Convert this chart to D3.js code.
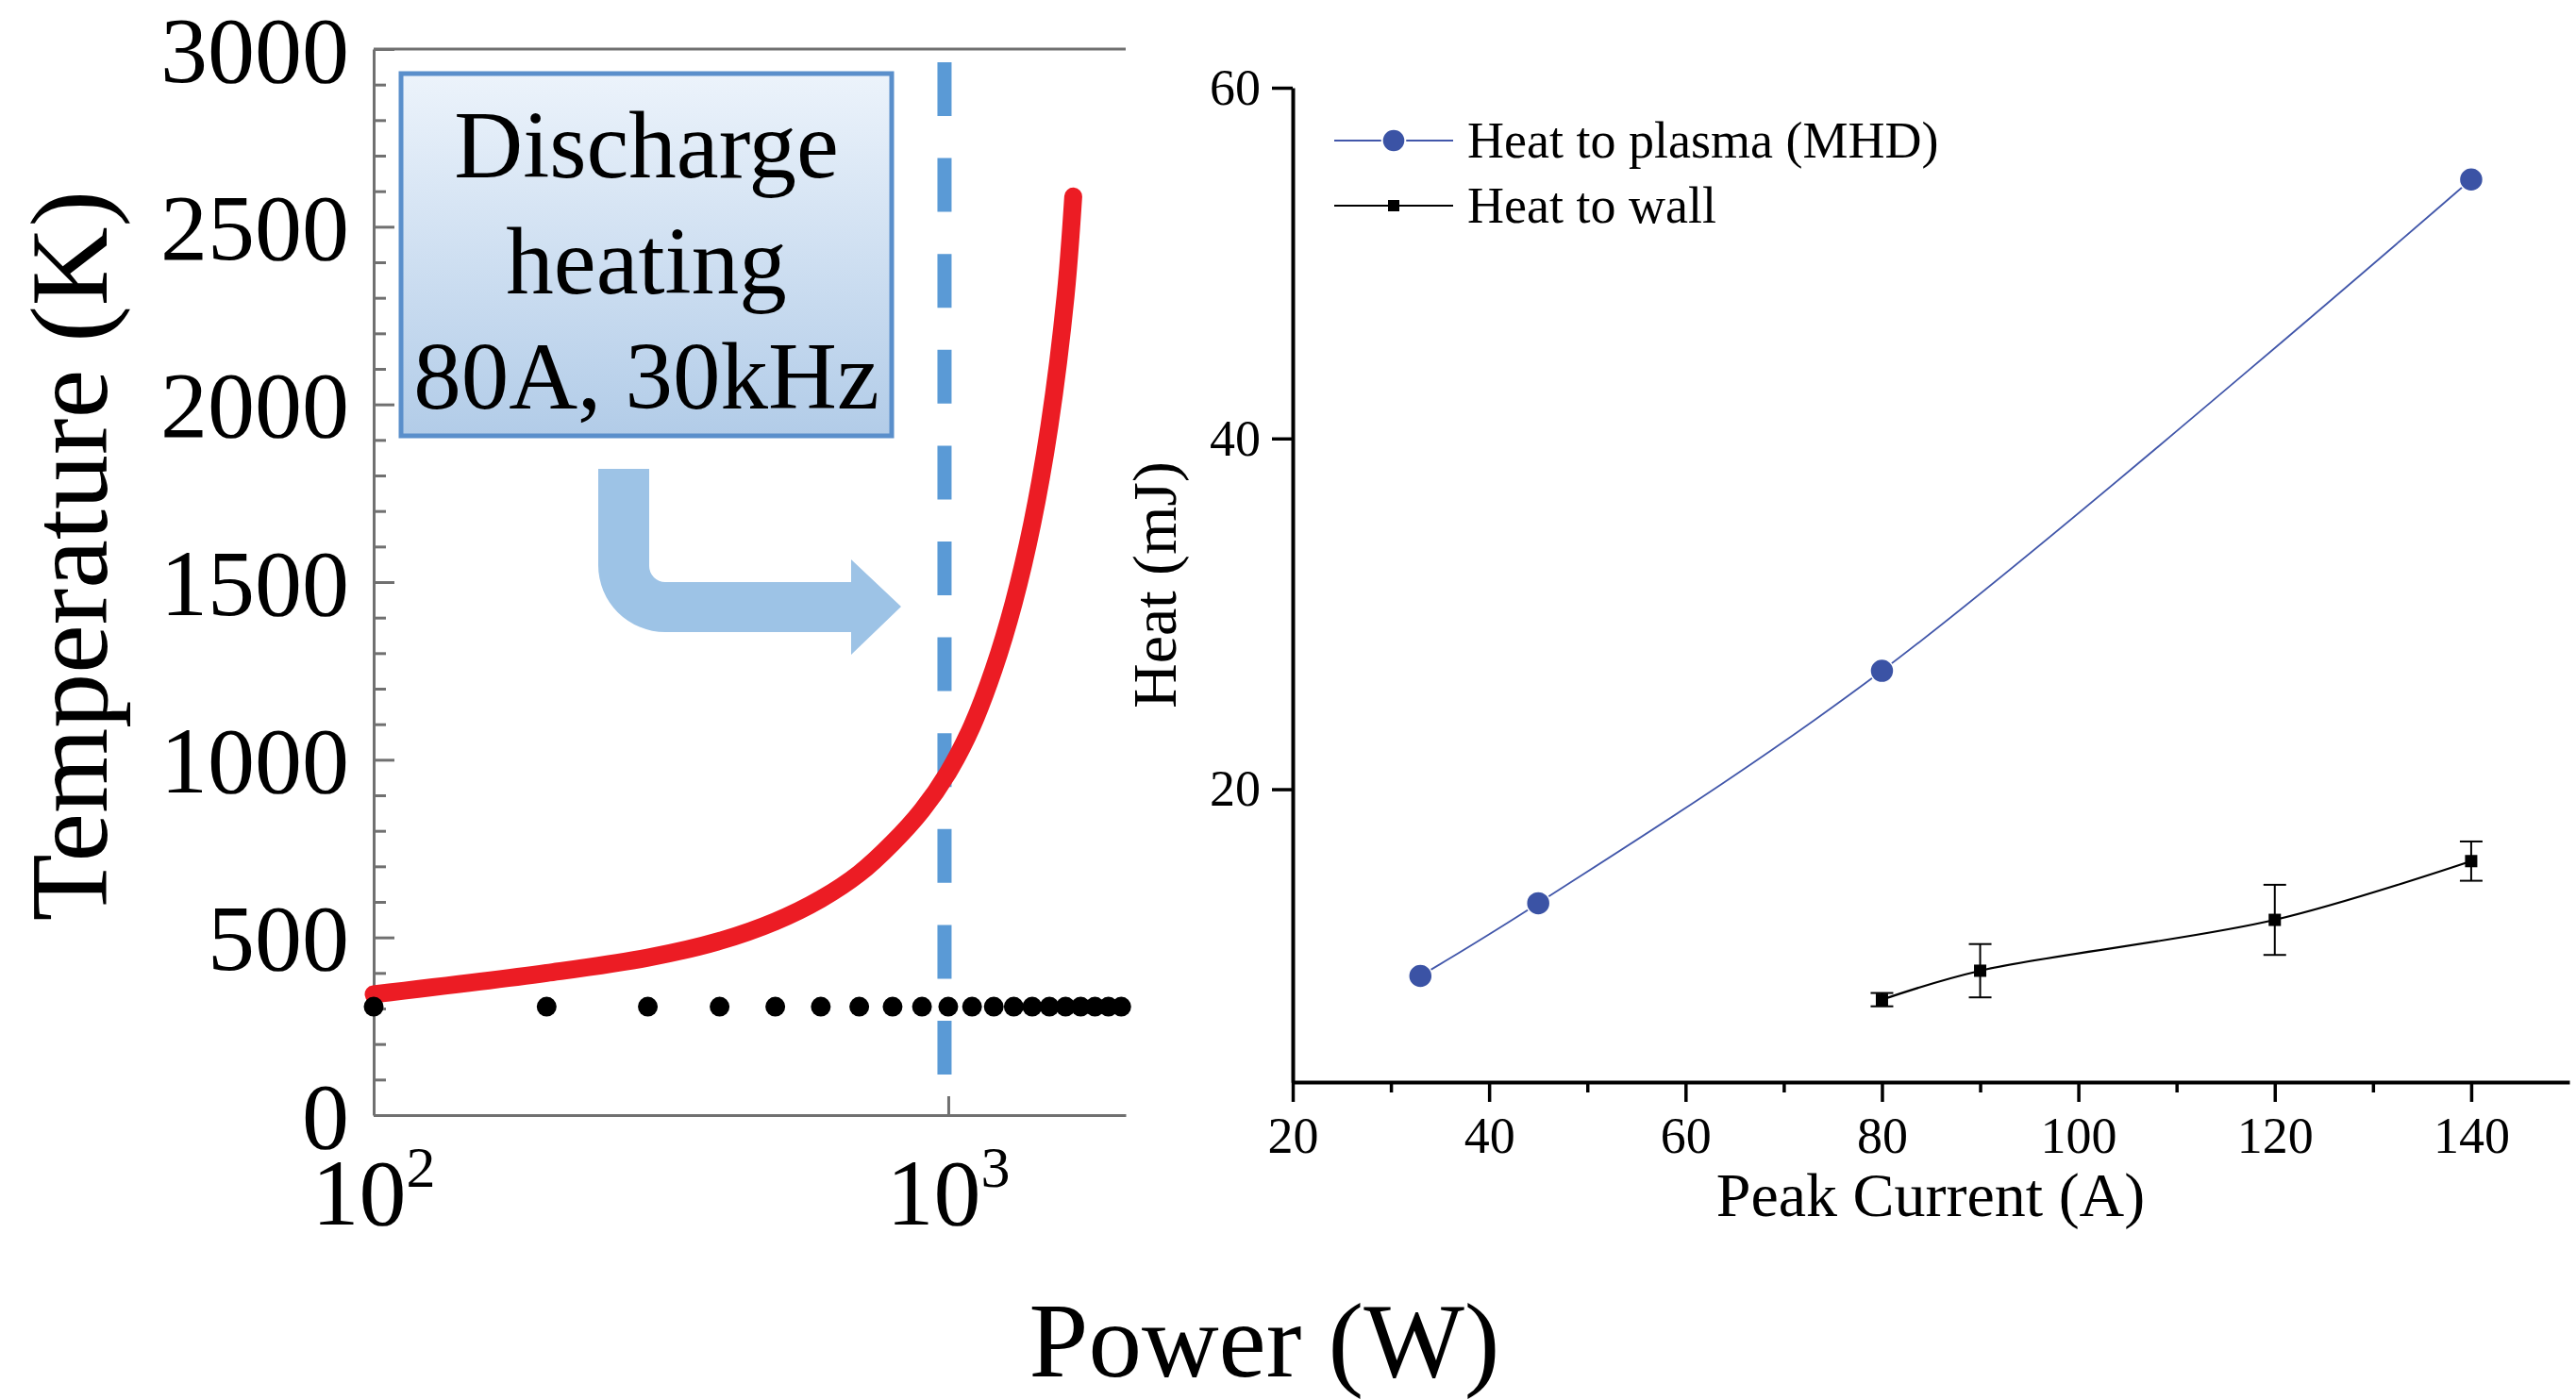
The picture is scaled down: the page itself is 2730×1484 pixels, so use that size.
<!DOCTYPE html>
<html lang="en">
<head>
<meta charset="UTF-8">
<title>Temperature vs Power / Heat vs Peak Current</title>
<script src="https://cdnjs.cloudflare.com/ajax/libs/d3/7.8.5/d3.min.js"></script>
<style>
    body { margin: 0; background: #fff; }
    svg { display: block; }
    text { font-family: "Liberation Serif", "Times New Roman", serif; fill: #000; }
</style>
</head>
<body>
<div id="chart"></div>
<script>
// ---- left panel data ----
const powerW = [100, 200, 300, 400, 500, 600, 700, 800, 900, 1000, 1100, 1200, 1300, 1400, 1500, 1600, 1650];
const tempK  = [340, 400, 443, 490, 545, 608, 680, 766, 858, 965, 1095, 1255, 1442, 1665, 1940, 2305, 2585];
const dotPowerW = [100, 200, 300, 400, 500, 600, 700, 800, 900, 1000, 1100, 1200, 1300, 1400, 1500, 1600, 1700, 1800, 1900, 2000];
const dotTempK  = [305, 305, 305, 305, 305, 305, 305, 305, 305, 305, 305, 305, 305, 305, 305, 305, 305, 305, 305, 305];
const dischargePowerW = 985;
const tempTicks = [0, 500, 1000, 1500, 2000, 2500, 3000];
const powerTicks = [100, 1000];
const boxLines = ["Discharge", "heating", "80A, 30kHz"];

// ---- right panel data ----
const plasmaCurrentA = [33, 45, 80, 140];
const heatPlasma = [9.35, 13.5, 26.75, 54.77];
const wallCurrentA = [80, 90, 120, 140];
const heatWall = [8.0, 9.65, 12.55, 15.9];
const heatWallErr = [0.38, 1.52, 2.0, 1.12];
const currentTicks = [20, 40, 60, 80, 100, 120, 140];
const currentMinor = [30, 50, 70, 90, 110, 130];
const heatTicks = [20, 40, 60];
const seriesNames = ["Heat to plasma (MHD)", "Heat to wall"];

const W = 2730, H = 1484;
const svg = d3.select("#chart").append("svg").attr("width", W).attr("height", H);
svg.append("rect").attr("width", W).attr("height", H).attr("fill", "#fff");

// ================= LEFT PANEL =================
const xL = d3.scaleLog().domain([100, 2036]).range([396, 1193]);
const yL = d3.scaleLinear().domain([0, 3000]).range([1182, 52]);
const gray = "#707070";

const left = svg.append("g");

// box with gradient
const defs = svg.append("defs");
const grad = defs.append("linearGradient").attr("id", "boxgrad")
    .attr("x1", 0).attr("y1", 0).attr("x2", 0).attr("y2", 1);
grad.append("stop").attr("offset", "0%").attr("stop-color", "#ecf3fb");
grad.append("stop").attr("offset", "100%").attr("stop-color", "#b2cce8");

left.append("rect")
    .attr("x", 425).attr("y", 78).attr("width", 520).attr("height", 384)
    .attr("fill", "url(#boxgrad)").attr("stroke", "#5a8fcb").attr("stroke-width", 5);

left.selectAll(".boxtxt").data(boxLines).join("text")
    .attr("class", "boxtxt")
    .attr("x", 685).attr("y", (d, i) => 188 + i * 122.5)
    .attr("text-anchor", "middle").attr("font-size", 101)
    .text(d => d);

// bent arrow
left.append("path")
    .attr("d", "M634,497 L688,497 L688,600 A17,17 0 0 0 705,617 L902,617 L902,593 L955,643 L902,694 L902,670 L705,670 A71,71 0 0 1 634,599 Z")
    .attr("fill", "#9dc3e6");

// dashed vertical line
left.append("line")
    .attr("x1", xL(dischargePowerW)).attr("x2", xL(dischargePowerW))
    .attr("y1", 66).attr("y2", 1139)
    .attr("stroke", "#5a9ad6").attr("stroke-width", 15)
    .attr("stroke-dasharray", "57 44.6");

// axes
const yMinor = d3.range(100, 3000, 100).filter(v => v % 500 !== 0);
left.append("g").attr("transform", "translate(396,0)")
    .call(d3.axisLeft(yL).tickValues(yMinor).tickSizeInner(-13).tickSizeOuter(0).tickFormat(""))
    .call(g => g.select(".domain").remove())
    .call(g => g.selectAll("line").attr("stroke", gray).attr("stroke-width", 3));

const yAxL = left.append("g").attr("transform", "translate(396,0)")
    .call(d3.axisLeft(yL).tickValues(tempTicks).tickSizeInner(-22).tickSizeOuter(0)
        .tickPadding(26).tickFormat(d3.format("d")));
yAxL.select(".domain").attr("stroke", gray).attr("stroke-width", 3);
yAxL.selectAll("line").attr("stroke", gray).attr("stroke-width", 3);
yAxL.selectAll("text").attr("font-size", 100).attr("font-family", "Liberation Serif, serif")
    .attr("fill", "#000").attr("dy", "0.34em");

const xAxL = left.append("g").attr("transform", "translate(0,1182)")
    .call(d3.axisBottom(xL).tickValues(powerTicks).tickSizeInner(-20).tickSizeOuter(0).tickFormat(""));
xAxL.select(".domain").attr("stroke", gray).attr("stroke-width", 3);
xAxL.selectAll("line").attr("stroke", gray).attr("stroke-width", 3);

// top frame line
left.append("line").attr("x1", 396).attr("x2", 1193).attr("y1", yL(3000)).attr("y2", yL(3000))
    .attr("stroke", gray).attr("stroke-width", 3);

// 10^n labels
powerTicks.forEach(v => {
    const t = left.append("text").attr("x", xL(v)).attr("y", 1298)
        .attr("text-anchor", "middle").attr("font-size", 100);
    t.append("tspan").text("10");
    t.append("tspan").attr("font-size", 62).attr("dy", -40).text(Math.round(Math.log10(v)));
});

// red curve
const redLine = d3.line().x((d, i) => xL(powerW[i])).y(d => yL(d)).curve(d3.curveCatmullRom.alpha(0.5));
left.append("path").attr("d", redLine(tempK))
    .attr("fill", "none").attr("stroke", "#ec1c24").attr("stroke-width", 19)
    .attr("stroke-linecap", "round").attr("stroke-linejoin", "round");

// black dots
left.selectAll(".dot").data(dotPowerW).join("circle")
    .attr("class", "dot")
    .attr("cx", d => xL(d)).attr("cy", (d, i) => yL(dotTempK[i]))
    .attr("r", 10.5).attr("fill", "#000");

// axis titles
left.append("text").attr("transform", "translate(113,589) rotate(-90)")
    .attr("text-anchor", "middle").attr("font-size", 116).text("Temperature (K)");
svg.append("text").attr("x", 1340).attr("y", 1459)
    .attr("text-anchor", "middle").attr("font-size", 113).text("Power (W)");

// ================= RIGHT PANEL =================
const xR = d3.scaleLinear().domain([20, 150]).range([1370, 2723]);
const yR = d3.scaleLinear().domain([3.3, 60]).range([1147, 93]);
const right = svg.append("g");

const xAxR = right.append("g").attr("transform", "translate(0,1147)")
    .call(d3.axisBottom(xR).tickValues(currentTicks).tickSizeInner(21).tickSizeOuter(0).tickPadding(16));
xAxR.select(".domain").attr("stroke", "#000").attr("stroke-width", 4);
xAxR.selectAll("line").attr("stroke", "#000").attr("stroke-width", 3.5);
xAxR.selectAll("text").attr("font-size", 54).attr("font-family", "Liberation Serif, serif").attr("fill", "#000");

right.append("g").attr("transform", "translate(0,1147)")
    .call(d3.axisBottom(xR).tickValues(currentMinor).tickSizeInner(11).tickSizeOuter(0).tickFormat(""))
    .call(g => g.select(".domain").remove())
    .call(g => g.selectAll("line").attr("stroke", "#000").attr("stroke-width", 3.5));

const yAxR = right.append("g").attr("transform", "translate(1370,0)")
    .call(d3.axisLeft(yR).tickValues(heatTicks).tickSizeInner(22).tickSizeOuter(0).tickPadding(12));
yAxR.select(".domain").attr("stroke", "#000").attr("stroke-width", 4);
yAxR.selectAll("line").attr("stroke", "#000").attr("stroke-width", 3.5);
yAxR.selectAll("text").attr("font-size", 54).attr("font-family", "Liberation Serif, serif").attr("fill", "#000");

right.append("text").attr("x", 2046).attr("y", 1289)
    .attr("text-anchor", "middle").attr("font-size", 66).text("Peak Current (A)");
right.append("text").attr("transform", "translate(1246,620) rotate(-90)")
    .attr("text-anchor", "middle").attr("font-size", 66).text("Heat (mJ)");

// lines
const plasmaLine = d3.line().x((d, i) => xR(plasmaCurrentA[i])).y(d => yR(d)).curve(d3.curveCatmullRom);
right.append("path").attr("d", plasmaLine(heatPlasma))
    .attr("fill", "none").attr("stroke", "#4257aa").attr("stroke-width", 1.8);

const wallLine = d3.line().x((d, i) => xR(wallCurrentA[i])).y(d => yR(d)).curve(d3.curveCatmullRom);
right.append("path").attr("d", wallLine(heatWall))
    .attr("fill", "none").attr("stroke", "#000").attr("stroke-width", 2.2);

// error bars
const eb = right.selectAll(".err").data(heatWall).join("g").attr("class", "err");
eb.append("line")
    .attr("x1", (d, i) => xR(wallCurrentA[i])).attr("x2", (d, i) => xR(wallCurrentA[i]))
    .attr("y1", (d, i) => yR(d + heatWallErr[i])).attr("y2", (d, i) => yR(d - heatWallErr[i]))
    .attr("stroke", "#000").attr("stroke-width", 2);
[1, -1].forEach(s => {
    eb.append("line")
        .attr("x1", (d, i) => xR(wallCurrentA[i]) - 12).attr("x2", (d, i) => xR(wallCurrentA[i]) + 12)
        .attr("y1", (d, i) => yR(d + s * heatWallErr[i])).attr("y2", (d, i) => yR(d + s * heatWallErr[i]))
        .attr("stroke", "#000").attr("stroke-width", 2);
});

// markers
right.selectAll(".pm").data(heatPlasma).join("circle").attr("class", "pm")
    .attr("cx", (d, i) => xR(plasmaCurrentA[i])).attr("cy", d => yR(d))
    .attr("r", 12.5).attr("fill", "#3b53a5").attr("stroke", "#fff").attr("stroke-width", 1.5);
right.selectAll(".wm").data(heatWall).join("rect").attr("class", "wm")
    .attr("x", (d, i) => xR(wallCurrentA[i]) - 6.5).attr("y", d => yR(d) - 6.5)
    .attr("width", 13).attr("height", 13).attr("fill", "#000");

// legend
const legend = right.append("g");
const legY = [149, 218];
legend.append("line").attr("x1", 1414).attr("x2", 1540).attr("y1", legY[0]).attr("y2", legY[0])
    .attr("stroke", "#4257aa").attr("stroke-width", 1.8);
legend.append("circle").attr("cx", 1477).attr("cy", legY[0]).attr("r", 12.3)
    .attr("fill", "#3b53a5").attr("stroke", "#fff").attr("stroke-width", 2);
legend.append("line").attr("x1", 1414).attr("x2", 1540).attr("y1", legY[1]).attr("y2", legY[1])
    .attr("stroke", "#000").attr("stroke-width", 2.2);
legend.append("rect").attr("x", 1471).attr("y", legY[1] - 6).attr("width", 12).attr("height", 12).attr("fill", "#000");
legend.selectAll(".lt").data(seriesNames).join("text").attr("class", "lt")
    .attr("x", 1555).attr("y", (d, i) => legY[i] + 18)
    .attr("font-size", 54).text(d => d);
</script>
</body>
</html>
